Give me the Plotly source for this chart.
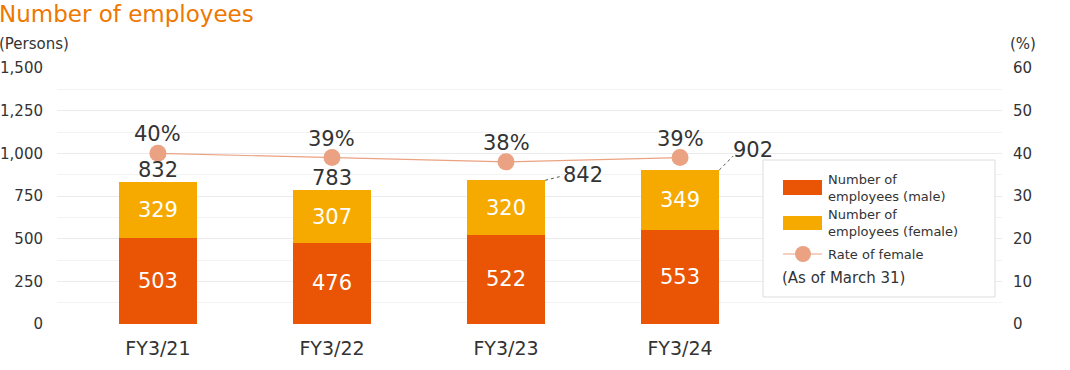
import plotly.graph_objects as go

categories = ["FY3/21", "FY3/22", "FY3/23", "FY3/24"]
male = [503, 476, 522, 553]
female = [329, 307, 320, 349]
totals = [832, 783, 842, 902]
female_rate = [40, 39, 38, 39]
rate_labels = ["40%", "39%", "38%", "39%"]

MALE_C = "#E95504"
FEMALE_C = "#F6AA00"
RATE_C = "#EBA282"
TEXT_C = "#333333"
GRID_C = "#EBEBEB"
FONT = "'DejaVu Sans', Verdana, sans-serif"

L, R, T, B = 57, 68, 68, 46
W, H = 1070, 370
PW, PH = W - L - R, H - T - B
BW = 0.45

def px(xp):
    return (xp - L) / PW

def py(yp):
    return (H - B - yp) / PH

xs = list(range(len(categories)))

fig = go.Figure()
fig.add_trace(go.Bar(
    x=xs, y=male, width=BW, marker_color=MALE_C, marker_line_width=0,
    text=[str(v) for v in male], textposition="inside", insidetextanchor="middle",
    textfont=dict(color="white", size=21, family=FONT), name="Number of employees (male)",
))
fig.add_trace(go.Bar(
    x=xs, y=female, width=BW, marker_color=FEMALE_C, marker_line_width=0,
    text=[str(v) for v in female], textposition="inside", insidetextanchor="middle",
    textfont=dict(color="white", size=21, family=FONT), name="Number of employees (female)",
))
fig.add_trace(go.Scatter(
    x=xs, y=female_rate, yaxis="y2", mode="lines+markers",
    line=dict(color=RATE_C, width=1.2), marker=dict(color=RATE_C, size=17),
    name="Rate of female",
))

annotations = []
shapes = []
for i, (r, lab) in enumerate(zip(female_rate, rate_labels)):
    annotations.append(dict(x=i, y=r, xref="x", yref="y2", text=lab, showarrow=False,
                            yanchor="bottom", yshift=5,
                            font=dict(size=21, color=TEXT_C, family=FONT)))
for i, t in enumerate(totals):
    if i < 2:
        annotations.append(dict(x=i, y=t, xref="x", yref="y", text=str(t), showarrow=False,
                                yanchor="bottom", yshift=-2,
                                font=dict(size=21, color=TEXT_C, family=FONT)))
    else:
        dx, dy = (16, 4) if i == 2 else (14, 14)
        shapes.append(dict(type="line", xref="x", yref="y", xsizemode="pixel", ysizemode="pixel",
                           xanchor=i + BW / 2, yanchor=t, x0=0, x1=dx, y0=0, y1=dy,
                           line=dict(color="#555555", width=1, dash="dot")))
        annotations.append(dict(x=i + BW / 2, y=t, xref="x", yref="y", text=str(t), showarrow=False,
                                xanchor="left", yanchor="middle", xshift=dx - (0 if i == 2 else 2),
                                yshift=dy + (1 if i == 2 else 6),
                                font=dict(size=21, color=TEXT_C, family=FONT)))

# title and axis unit labels
annotations.append(dict(x=px(-3), y=py(14), xref="paper", yref="paper", text="Number of employees",
                        showarrow=False, xanchor="left", yanchor="middle",
                        font=dict(size=23, color="#EE7800", family=FONT)))
annotations.append(dict(x=px(-3), y=py(44), xref="paper", yref="paper", text="(Persons)",
                        showarrow=False, xanchor="left", yanchor="middle",
                        font=dict(size=15, color=TEXT_C, family=FONT)))
annotations.append(dict(x=px(1008), y=py(44), xref="paper", yref="paper", text="(%)",
                        showarrow=False, xanchor="left", yanchor="middle",
                        font=dict(size=15, color=TEXT_C, family=FONT)))

# custom legend
shapes.append(dict(type="rect", xref="paper", yref="paper", x0=px(763), x1=px(995), y0=py(297), y1=py(160),
                   line=dict(color="#DDDDDD", width=1), fillcolor="white", layer="above"))
shapes.append(dict(type="rect", xref="paper", yref="paper", x0=px(783), x1=px(822), y0=py(195), y1=py(180),
                   line=dict(width=0), fillcolor=MALE_C, layer="above"))
shapes.append(dict(type="rect", xref="paper", yref="paper", x0=px(783), x1=px(822), y0=py(230), y1=py(216),
                   line=dict(width=0), fillcolor=FEMALE_C, layer="above"))
shapes.append(dict(type="line", xref="paper", yref="paper", x0=px(783), x1=px(822), y0=py(254), y1=py(254),
                   line=dict(color=RATE_C, width=1.2), layer="above"))
shapes.append(dict(type="circle", xref="paper", yref="paper", x0=px(795), x1=px(811), y0=py(262), y1=py(246),
                   line=dict(width=0), fillcolor=RATE_C, layer="above"))
leg_font = dict(size=13, color=TEXT_C, family=FONT)
annotations.append(dict(x=px(826), y=py(188), xref="paper", yref="paper",
                        text="Number of<br>employees (male)", showarrow=False, align="left",
                        xanchor="left", yanchor="middle", font=leg_font))
annotations.append(dict(x=px(826), y=py(223), xref="paper", yref="paper",
                        text="Number of<br>employees (female)", showarrow=False, align="left",
                        xanchor="left", yanchor="middle", font=leg_font))
annotations.append(dict(x=px(826), y=py(254), xref="paper", yref="paper",
                        text="Rate of female", showarrow=False, align="left",
                        xanchor="left", yanchor="middle", font=leg_font))
annotations.append(dict(x=px(780), y=py(278), xref="paper", yref="paper",
                        text="(As of March 31)", showarrow=False, align="left",
                        xanchor="left", yanchor="middle", font=dict(size=15, color=TEXT_C, family=FONT)))

fig.update_layout(
    width=W, height=H, margin=dict(l=L, r=R, t=T, b=B, autoexpand=False),
    paper_bgcolor="white", plot_bgcolor="white",
    barmode="stack", showlegend=False,
    font=dict(family=FONT, color=TEXT_C),
    xaxis=dict(range=[-0.58, 4.85], tickvals=xs, ticktext=categories, showgrid=False,
               zeroline=False, showline=False, ticks="", tickfont=dict(size=19, color=TEXT_C),
               ticklabelstandoff=11, automargin=False),
    yaxis=dict(range=[0, 1500], tickvals=[0, 250, 500, 750, 1000, 1250, 1500],
               ticktext=["0", "250", "500", "750", "1,000", "1,250", "1,500"],
               showgrid=True, gridcolor=GRID_C, gridwidth=1, zeroline=False,
               minor=dict(dtick=125, showgrid=True, gridcolor="#F3F3F3"),
               ticks="", tickfont=dict(size=15, color=TEXT_C), ticklabelstandoff=13,
               automargin=False),
    yaxis2=dict(range=[0, 60], dtick=10, overlaying="y", side="right", showgrid=False,
                zeroline=False, ticks="", tickfont=dict(size=15, color=TEXT_C), ticklabelstandoff=10,
                automargin=False),
    annotations=annotations, shapes=shapes,
)

fig.write_html("out.html", config={"displayModeBar": False},
               post_script="document.body.style.margin='0';document.body.style.overflow='hidden';")
